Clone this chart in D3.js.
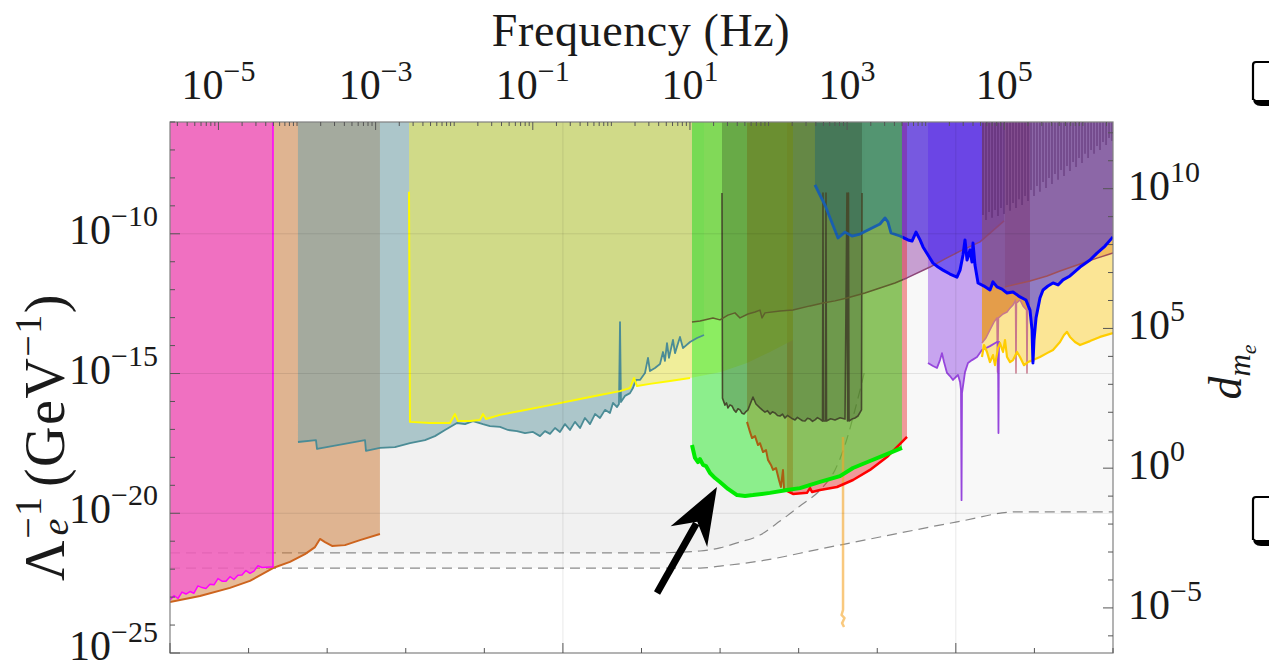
<!DOCTYPE html>
<html>
<head>
<meta charset="utf-8">
<script src="https://cdn.jsdelivr.net/npm/d3@7"></script>
<style>
  html, body { margin: 0; padding: 0; background: #fff; }
  svg { display: block; }
</style>
</head>
<body>
<svg id="chart" width="1269" height="671"></svg>
<script>
// Constraint curves, stored as [log10 frequency (Hz), log10 Λe^-1 (GeV^-1)].

const pinkBound = [[-5.617,-23.10],[-5.566,-22.95],[-5.515,-23.05],[-5.464,-22.82],[-5.413,-22.89],[-5.362,-22.80],[-5.312,-22.86],[-5.261,-22.60],[-5.210,-22.66],[-5.159,-22.69],[-5.108,-22.54],[-5.057,-22.56],[-5.006,-22.34],[-4.955,-22.43],[-4.904,-22.43],[-4.853,-22.27],[-4.803,-22.37],[-4.752,-22.22],[-4.701,-22.21],[-4.650,-22.05],[-4.599,-22.15],[-4.548,-22.07],[-4.497,-21.88],[-4.446,-21.94],[-4.395,-21.93],[-4.345,-21.92],[-4.306,-21.92],[-4.306,-6.0]];

const orangeBound = [[-5.617,-23.18],[-5.235,-22.96],[-4.853,-22.67],[-4.599,-22.42],[-4.306,-21.96],[-4.090,-21.74],[-3.899,-21.46],[-3.771,-21.21],[-3.708,-20.92],[-3.644,-21.03],[-3.555,-21.17],[-3.390,-21.14],[-3.199,-20.96],[-2.945,-20.74]];

const tealBound = [[-3.988,-17.45],[-3.759,-17.38],[-3.746,-17.70],[-3.135,-17.38],[-3.123,-17.77],[-2.945,-17.66],[-2.754,-17.63],[-2.563,-17.49],[-2.372,-17.38],[-2.245,-17.24],[-2.117,-17.02],[-1.965,-16.77],[-1.863,-16.81],[-1.761,-16.70],[-1.634,-16.81],[-1.545,-16.88],[-1.417,-16.91],[-1.316,-17.02],[-1.201,-17.06],[-1.099,-17.13],[-0.997,-17.09],[-0.908,-17.24],[-0.845,-17.06],[-0.781,-17.16],[-0.717,-16.95],[-0.654,-17.09],[-0.590,-16.81],[-0.527,-17.02],[-0.463,-16.73],[-0.399,-16.95],[-0.336,-16.59],[-0.272,-16.81],[-0.208,-16.45],[-0.145,-16.59],[-0.081,-16.30],[-0.018,-16.41],[0.021,-16.05],[0.072,-16.20],[0.097,-16.09],[0.110,-13.16],[0.122,-16.02],[0.173,-15.80],[0.237,-15.70],[0.275,-15.52],[0.313,-15.23],[0.364,-15.23],[0.428,-14.98],[0.466,-14.44],[0.491,-14.91],[0.555,-14.80],[0.619,-14.66],[0.657,-14.23],[0.682,-14.55],[0.708,-13.91],[0.733,-14.44],[0.784,-13.80],[0.810,-14.27],[0.873,-13.69],[0.911,-14.09],[1.001,-13.87],[1.090,-13.73],[1.179,-13.62]];

const yellowBound = [[-2.575,-8.50],[-2.563,-16.73],[-2.308,-16.77],[-2.054,-16.77],[-1.990,-16.45],[-1.952,-16.70],[-1.799,-16.70],[-1.672,-16.66],[-1.634,-16.45],[-1.596,-16.63],[-1.417,-16.48],[-1.163,-16.34],[-0.781,-16.13],[-0.399,-15.91],[-0.145,-15.77],[0.110,-15.63],[0.237,-15.52],[0.288,-15.16],[0.326,-15.45],[0.491,-15.37],[0.746,-15.27],[1.001,-15.16],[1.382,-14.95],[1.726,-14.62],[2.019,-14.23],[2.311,-13.80]];

const limeBound = [[1.026,-17.56],[1.064,-18.02],[1.102,-18.17],[1.128,-18.06],[1.166,-18.27],[1.204,-18.31],[1.255,-18.56],[1.319,-18.74],[1.382,-18.88],[1.484,-19.13],[1.599,-19.35],[1.701,-19.38],[1.802,-19.35],[2.019,-19.27],[2.235,-19.17],[2.400,-19.10],[2.655,-18.88],[2.909,-18.67],[3.075,-18.38],[3.291,-18.13],[3.545,-17.84],[3.698,-17.66]];

const redBound = [[2.235,-19.20],[2.311,-19.31],[2.489,-19.27],[2.528,-19.10],[2.553,-19.24],[2.655,-19.17],[2.871,-19.06],[3.075,-18.81],[3.291,-18.45],[3.507,-17.99],[3.762,-17.27]];

const brownBound = [[1.726,-16.73],[1.764,-17.09],[1.790,-17.31],[1.828,-17.24],[1.866,-17.56],[1.891,-17.49],[1.930,-17.81],[1.968,-17.74],[1.993,-18.09],[2.031,-18.27],[2.057,-18.45],[2.095,-18.38],[2.133,-18.81],[2.158,-19.06],[2.184,-18.45],[2.197,-19.13],[2.235,-19.20],[2.311,-19.31]];

const darkBound = [[1.408,-8.54],[1.414,-15.88],[1.446,-16.13],[1.465,-16.05],[1.484,-16.23],[1.510,-16.12],[1.535,-16.16],[1.560,-16.30],[1.586,-16.38],[1.611,-16.26],[1.637,-16.30],[1.662,-16.42],[1.688,-16.45],[1.713,-16.36],[1.738,-16.30],[1.777,-16.02],[1.802,-15.84],[1.840,-16.09],[1.891,-16.23],[1.923,-16.31],[1.955,-16.38],[1.987,-16.33],[2.019,-16.45],[2.050,-16.37],[2.082,-16.41],[2.114,-16.50],[2.146,-16.52],[2.178,-16.45],[2.209,-16.59],[2.241,-16.50],[2.273,-16.56],[2.305,-16.62],[2.337,-16.66],[2.368,-16.57],[2.400,-16.63],[2.432,-16.69],[2.464,-16.70],[2.496,-16.60],[2.528,-16.63],[2.560,-16.71],[2.591,-16.66],[2.623,-16.58],[2.655,-16.63],[2.687,-16.70],[2.693,-8.54],[2.699,-16.70],[2.725,-16.70],[2.731,-8.54],[2.738,-16.70],[2.790,-16.62],[2.846,-16.66],[2.910,-16.58],[2.973,-16.63],[2.998,-8.54],[3.005,-16.70],[3.017,-8.54],[3.024,-16.70],[3.062,-16.63],[3.100,-16.59],[3.138,-16.52],[3.183,-16.30],[3.189,-8.54]];

const mauveBound = [[1.026,-13.16],[1.128,-13.12],[1.293,-13.01],[1.382,-13.08],[1.484,-12.91],[1.573,-12.83],[1.637,-13.01],[1.738,-12.87],[1.828,-12.80],[1.891,-12.73],[1.917,-13.01],[1.955,-12.83],[2.146,-12.76],[2.311,-12.73],[2.528,-12.58],[2.693,-12.48],[2.846,-12.40],[2.998,-12.30],[3.227,-12.12],[3.418,-11.94],[3.609,-11.76],[3.762,-11.58],[4.055,-11.19],[4.246,-10.90],[4.437,-10.62],[4.691,-10.29],[4.997,-9.54]];

const blueBound = [[2.591,-8.25],[2.718,-8.97],[2.884,-10.15],[2.973,-9.94],[3.062,-10.08],[3.164,-10.01],[3.291,-9.83],[3.418,-9.65],[3.482,-9.43],[3.520,-9.58],[3.558,-9.97],[3.673,-10.08],[3.775,-10.22],[3.826,-10.26],[3.877,-9.94],[3.928,-10.22],[3.966,-10.47],[4.029,-10.76],[4.093,-11.05],[4.157,-11.19],[4.220,-11.30],[4.309,-11.44],[4.398,-11.55],[4.437,-11.30],[4.475,-10.76],[4.500,-10.22],[4.526,-10.94],[4.564,-10.58],[4.589,-11.01],[4.602,-10.33],[4.627,-11.12],[4.666,-11.76],[4.742,-11.87],[4.818,-12.01],[4.856,-11.72],[4.907,-11.90],[4.971,-11.98],[5.035,-12.12],[5.111,-12.08],[5.200,-12.26],[5.276,-12.37],[5.327,-12.73],[5.353,-13.44],[5.365,-14.62],[5.378,-13.80],[5.404,-13.01],[5.454,-12.30],[5.493,-12.01],[5.556,-11.87],[5.620,-11.76],[5.684,-11.83],[5.747,-11.65],[5.836,-11.51],[5.964,-11.19],[6.091,-10.94],[6.180,-10.69],[6.282,-10.44],[6.383,-10.11]];

const lavenderBound = [[4.029,-14.62],[4.093,-14.73],[4.144,-14.80],[4.182,-14.52],[4.207,-14.27],[4.233,-14.59],[4.271,-14.98],[4.309,-15.09],[4.347,-15.23],[4.386,-15.12],[4.411,-15.05],[4.437,-15.30],[4.449,-15.59],[4.456,-19.53],[4.462,-15.70],[4.500,-14.95],[4.538,-14.62],[4.589,-14.52],[4.653,-14.41],[4.716,-14.16],[4.818,-14.02],[4.907,-13.87],[4.920,-13.88],[4.926,-17.13],[4.932,-13.88],[4.945,-13.87]];

const tanBound = [[4.716,-13.91],[4.767,-13.73],[4.818,-13.44],[4.869,-13.16],[4.907,-13.01],[4.914,-14.95],[4.926,-13.01],[4.984,-12.87],[5.035,-12.80],[5.073,-12.66],[5.111,-12.55],[5.143,-12.37],[5.149,-14.98],[5.155,-12.48],[5.200,-12.37],[5.238,-12.58],[5.283,-12.73],[5.289,-14.98],[5.296,-12.73],[5.327,-12.55]];

const copperBound = [[5.009,-11.90],[5.327,-11.69],[5.544,-11.51],[5.709,-11.33],[5.964,-11.08],[6.180,-10.87],[6.383,-10.69]];

const goldBound = [[4.716,-14.41],[4.742,-13.98],[4.780,-14.23],[4.818,-14.59],[4.856,-14.34],[4.882,-14.70],[4.920,-14.09],[4.945,-13.91],[4.984,-14.23],[5.009,-13.80],[5.035,-14.41],[5.073,-14.59],[5.111,-14.52],[5.162,-14.23],[5.200,-14.41],[5.251,-14.70],[5.302,-14.59],[5.365,-14.52],[5.454,-14.41],[5.544,-14.27],[5.620,-14.16],[5.709,-13.87],[5.760,-13.62],[5.798,-13.51],[5.836,-13.69],[5.900,-13.87],[5.964,-13.98],[6.091,-13.84],[6.218,-13.69],[6.383,-13.55]];

// Tips of the narrow resonance lines at the high-frequency end.
const combTips = [[4.729,-9.33],[4.767,-9.51],[4.806,-9.22],[4.844,-9.43],[4.882,-9.15],[4.920,-9.36],[4.958,-9.08],[4.997,-9.29],[5.035,-8.97],[5.073,-9.18],[5.111,-8.90],[5.149,-9.08],[5.187,-8.76],[5.226,-8.97],[5.264,-8.65],[5.302,-8.83],[5.340,-8.43],[5.378,-8.65],[5.416,-8.29],[5.454,-8.50],[5.493,-8.15],[5.531,-8.36],[5.569,-8.00],[5.607,-8.22],[5.645,-7.86],[5.684,-8.07],[5.722,-7.72],[5.760,-7.93],[5.798,-7.57],[5.836,-7.75],[5.875,-7.43],[5.913,-7.61],[5.951,-7.29],[5.989,-7.47],[6.027,-7.14],[6.066,-7.29],[6.104,-7.00],[6.142,-7.14],[6.180,-6.86],[6.218,-7.00],[6.256,-6.72],[6.295,-6.82],[6.333,-6.57],[6.371,-6.68]];

const orangeDip = [[2.948,-17.27],[2.948,-23.46],[2.929,-23.64],[2.967,-23.75],[2.936,-23.93],[2.961,-24.07]];

// Projected reaches (dashed).
const dashUpper = [[-5.617,-21.42],[0.491,-21.42],[1.128,-21.35],[1.382,-21.24],[1.599,-21.06],[1.891,-20.78],[2.146,-20.28],[2.400,-19.74],[2.655,-19.17],[2.846,-18.45],[2.973,-17.56],[3.100,-16.30],[3.227,-14.87]];
const dashLower = [[-5.617,-21.96],[1.128,-21.96],[1.382,-21.89],[1.891,-21.71],[2.655,-21.28],[3.418,-20.85],[4.398,-20.31],[5.162,-19.95],[6.383,-19.95]];

// Annotation arrow: tail and tip.
const arrowTail = [0.581, -22.85];
const arrowTip = [1.344, -19.06];

// Axis labels (powers of ten).
const freqLabelExps = [-5, -3, -1, 1, 3, 5];
const lambdaLabelExps = [-25, -20, -15, -10];
const dmeLabelExps = [-5, 0, 5, 10];

// ---------- scales ----------
const plot = { left: 170, right: 1113, top: 122, bottom: 653 };
const HZ_PER_EV = 2.418e14;          // frequency of a 1 eV field
const DME_PER_INVGEV = 2.435e18;     // d_me = Λe^-1 × reduced Planck mass

const x = d3.scaleLog().domain([1e-20 * HZ_PER_EV, 1e-8 * HZ_PER_EV]).range([plot.left, plot.right]);
const xMass = d3.scaleLog().domain([1e-20, 1e-8]).range([plot.left, plot.right]);
const y = d3.scaleLog().domain([1e-25, 1e-6]).range([plot.bottom, plot.top]);
const yD = d3.scaleLog().domain([1e-25 * DME_PER_INVGEV, 1e-6 * DME_PER_INVGEV]).range([plot.bottom, plot.top]);

const px = d => x(Math.pow(10, d[0]));
const py = d => y(Math.pow(10, d[1]));
const lineGen = d3.line().x(px).y(py);
const areaToTop = d3.area().x(px).y0(plot.top).y1(py);

const svg = d3.select('#chart');
const SERIF = "'Liberation Serif', 'Times New Roman', serif";

const defs = svg.append('defs');
defs.append('clipPath').attr('id', 'plotClip').append('rect')
  .attr('x', plot.left).attr('y', plot.top)
  .attr('width', plot.right - plot.left).attr('height', plot.bottom - plot.top);
const splitX = x(Math.pow(10, 3.711));
defs.append('clipPath').attr('id', 'leftOfSplit').append('rect')
  .attr('x', plot.left).attr('y', plot.top).attr('width', splitX - plot.left).attr('height', plot.bottom - plot.top);
defs.append('clipPath').attr('id', 'rightOfSplit').append('rect')
  .attr('x', splitX).attr('y', plot.top).attr('width', plot.right - splitX).attr('height', plot.bottom - plot.top);

const g = svg.append('g').attr('clip-path', 'url(#plotClip)');

// light shading above each projected reach
const smoothArea = d3.area().x(px).y0(plot.top).y1(py).curve(d3.curveMonotoneX);
[dashUpper, dashLower].forEach(d => {
  g.append('path').attr('d', smoothArea(d)).attr('fill', '#000').attr('fill-opacity', 0.028);
});
const smoothLine = d3.line().x(px).y(py).curve(d3.curveMonotoneX);
[dashUpper, dashLower].forEach(d => {
  g.append('path').attr('d', smoothLine(d)).attr('fill', 'none')
    .attr('stroke', '#8a8a8a').attr('stroke-width', 1.2).attr('stroke-dasharray', '10,6');
});

// excluded regions (stacking order matters for the blended colours)
const regions = [
  { data: mauveBound,   fill: 'rgb(150,70,170)',  op: 0.5 },
  { data: redBound,     fill: 'rgb(230,40,40)',   op: 0.45 },
  { data: copperBound,  fill: 'rgb(215,110,70)',  op: 0.5 },
  { data: goldBound,    fill: 'rgb(255,200,0)',   op: 0.4 },
  { data: tanBound,     fill: 'rgb(205,85,0)',    op: 0.5 },
  { data: lavenderBound.filter(d => d[0] <= 4.72), fill: 'rgb(150,80,230)', op: 0.5 },
  { data: blueBound,    fill: 'rgb(40,20,240)',   op: 0.5 },
  { data: orangeBound,  fill: 'rgb(205,120,50)',  op: 0.5 },
  { data: tealBound,    fill: 'rgb(115,162,170)', op: 0.55 },
  { data: pinkBound,    fill: 'rgb(245,90,210)',  op: 0.75 },
  { data: yellowBound,  fill: 'rgb(238,235,82)',  op: 0.55 },
  { data: limeBound,    fill: 'rgb(40,235,40)',   op: 0.5 },
  { data: brownBound,   fill: 'rgb(140,110,0)',   op: 0.35 },
  { data: darkBound,    fill: 'rgb(40,50,30)',    op: 0.28 }
];
regions.forEach(r => {
  g.append('path').attr('d', areaToTop(r.data)).attr('fill', r.fill).attr('fill-opacity', r.op);
});

// resonance lines
g.selectAll('line.tooth').data(combTips).join('line').attr('class', 'tooth')
  .attr('x1', px).attr('x2', px).attr('y1', plot.top).attr('y2', py)
  .attr('stroke', 'rgb(70,20,90)').attr('stroke-opacity', 0.4).attr('stroke-width', 1.6);

// grid
const grid = svg.append('g').attr('stroke', '#000').attr('stroke-opacity', 0.09).attr('stroke-width', 1);
[-20, -15, -10].forEach(e => {
  grid.append('line').attr('x1', plot.left).attr('x2', plot.right).attr('y1', y(Math.pow(10, e))).attr('y2', y(Math.pow(10, e)));
});
[-15, -10].forEach(e => {
  grid.append('line').attr('y1', plot.top).attr('y2', plot.bottom).attr('x1', xMass(Math.pow(10, e))).attr('x2', xMass(Math.pow(10, e)));
});

// boundary curves
function stroke(data, color, width, clip, opacity) {
  const p = g.append('path').attr('d', lineGen(data)).attr('fill', 'none')
    .attr('stroke', color).attr('stroke-width', width).attr('stroke-linejoin', 'round');
  if (clip) p.attr('clip-path', `url(#${clip})`);
  if (opacity !== undefined) p.attr('stroke-opacity', opacity);
}
stroke(orangeBound, 'rgb(205,100,30)', 2);
stroke(pinkBound, 'rgb(255,0,255)', 1.5);
stroke(tealBound, 'rgb(75,140,150)', 1.8);
stroke(yellowBound.filter(d => d[0] <= 1.01), 'rgb(255,250,0)', 2);
stroke(darkBound, 'rgb(70,75,45)', 1.6);
stroke(brownBound.filter(d => d[0] <= 2.24), 'rgb(170,95,20)', 2);
stroke(mauveBound, 'rgb(95,95,45)', 1.5, 'leftOfSplit');
stroke(mauveBound, 'rgb(140,70,120)', 1.5, 'rightOfSplit');
stroke(copperBound, 'rgb(160,80,90)', 1.5);
stroke(tanBound, 'rgb(200,120,140)', 1.5);
stroke(lavenderBound, 'rgb(150,70,220)', 1.8);
stroke(goldBound, 'rgb(255,205,0)', 2.2);
stroke(orangeDip, 'rgb(245,165,40)', 2.5, null, 0.6);
stroke(redBound, 'rgb(255,0,0)', 2.5);
stroke(limeBound, 'rgb(0,235,0)', 4);
stroke(blueBound, 'rgb(25,95,175)', 2.8, 'leftOfSplit');
stroke(blueBound, 'rgb(0,0,255)', 3, 'rightOfSplit');

// frame and ticks
const axisColor = '#808080';
svg.append('rect').attr('x', plot.left).attr('y', plot.top)
  .attr('width', plot.right - plot.left).attr('height', plot.bottom - plot.top)
  .attr('fill', 'none').attr('stroke', axisColor).attr('stroke-width', 1.2);

const ticks = svg.append('g').attr('stroke', '#555').attr('stroke-width', 1);
d3.range(-25, -5).forEach(e => {
  const yy = y(Math.pow(10, e)), len = e % 5 === 0 ? 10 : 5;
  ticks.append('line').attr('x1', plot.left).attr('x2', plot.left + len).attr('y1', yy).attr('y2', yy);
});
d3.range(-6, 13).forEach(e => {
  const yy = yD(Math.pow(10, e)), len = e % 5 === 0 ? 10 : 5;
  ticks.append('line').attr('x1', plot.right).attr('x2', plot.right - len).attr('y1', yy).attr('y2', yy);
});
d3.range(-20, -7).forEach(e => {
  const xx = xMass(Math.pow(10, e)), len = e % 5 === 0 ? 10 : 5;
  ticks.append('line').attr('x1', xx).attr('x2', xx).attr('y1', plot.bottom).attr('y2', plot.bottom - len);
});
const [fLo, fHi] = x.domain();
d3.range(-6, 7).forEach(k => {
  d3.range(1, 10).forEach(m => {
    const f = m * Math.pow(10, k);
    if (f < fLo || f > fHi) return;
    const major = m === 1 && Math.abs(k % 2) === 1;
    const xx = x(f);
    ticks.append('line').attr('x1', xx).attr('x2', xx).attr('y1', plot.top).attr('y2', plot.top + (major ? 8 : 4));
  });
});

// tick labels
const labels = svg.append('g').attr('font-family', SERIF).attr('fill', '#1a1a1a');
function powerLabel(xx, yy, exp, anchor) {
  const t = labels.append('text').attr('x', xx).attr('y', yy).attr('text-anchor', anchor).attr('font-size', 42);
  t.append('tspan').text('10');
  t.append('tspan').attr('dy', -18).attr('font-size', 30).text(exp < 0 ? '\u2212' + (-exp) : String(exp));
}
freqLabelExps.forEach(e => powerLabel(x(Math.pow(10, e)), 99, e, 'middle'));
lambdaLabelExps.forEach(e => powerLabel(158, Math.min(y(Math.pow(10, e)) + 10, 660), e, 'end'));
dmeLabelExps.forEach(e => powerLabel(1128, yD(Math.pow(10, e)) + 11, e, 'start'));

// axis titles
labels.append('text').attr('x', 641).attr('y', 46).attr('text-anchor', 'middle')
  .attr('font-size', 46).attr('letter-spacing', 0.6).text('Frequency (Hz)');

const yTitle = labels.append('text').attr('transform', 'translate(64,437) rotate(-90)')
  .attr('text-anchor', 'middle').attr('font-size', 56).attr('letter-spacing', 1.5);
yTitle.append('tspan').text('\u039B');
yTitle.append('tspan').attr('dy', -23).attr('font-size', 38).text('\u22121');
yTitle.append('tspan').attr('dx', -40).attr('dy', 27).attr('font-size', 38).attr('font-style', 'italic').text('e');
yTitle.append('tspan').attr('dy', -4).attr('dx', 30).text('(GeV');
yTitle.append('tspan').attr('dy', -23).attr('font-size', 38).text('\u22121');
yTitle.append('tspan').attr('dy', 23).text(')');

const dTitle = labels.append('text').attr('transform', 'translate(1241,372) rotate(-90)')
  .attr('text-anchor', 'middle').attr('font-size', 46).attr('font-style', 'italic');
dTitle.append('tspan').text('d');
dTitle.append('tspan').attr('dy', 9).attr('font-size', 31).text('m');
dTitle.append('tspan').attr('dy', 6).attr('font-size', 22).text('e');

// annotation arrow pointing at the lowest reach
(function drawArrow() {
  const x0 = px(arrowTail), y0 = py(arrowTail), x1 = px(arrowTip), y1 = py(arrowTip);
  const L = Math.hypot(x1 - x0, y1 - y0), ux = (x1 - x0) / L, uy = (y1 - y0) / L;
  const nx = -uy, ny = ux;
  const back = 57, notch = 40, half = 21;
  svg.append('line').attr('x1', x0).attr('y1', y0)
    .attr('x2', x1 - ux * (notch + 2)).attr('y2', y1 - uy * (notch + 2))
    .attr('stroke', '#000').attr('stroke-width', 7);
  const pts = [
    [x1, y1],
    [x1 - ux * back + nx * half, y1 - uy * back + ny * half],
    [x1 - ux * notch, y1 - uy * notch],
    [x1 - ux * back - nx * half, y1 - uy * back - ny * half]
  ];
  svg.append('path').attr('d', 'M' + pts.map(p => p.join(',')).join('L') + 'Z').attr('fill', '#000');
})();

// partial frames at the right margin
[[62, 106], [497, 546]].forEach(([t, b]) => {
  svg.append('path').attr('d', `M1271,${t} L1256,${t} Q1253,${t} 1253,${t + 3} L1253,${b - 6}`)
    .attr('fill', 'none').attr('stroke', '#000').attr('stroke-width', 2.2);
  svg.append('path').attr('d', `M1253,${b - 8} Q1253,${b} 1261,${b} L1271,${b} L1271,${b - 6} L1256,${b - 6} Z`)
    .attr('fill', '#000');
});
</script>
</body>
</html>
